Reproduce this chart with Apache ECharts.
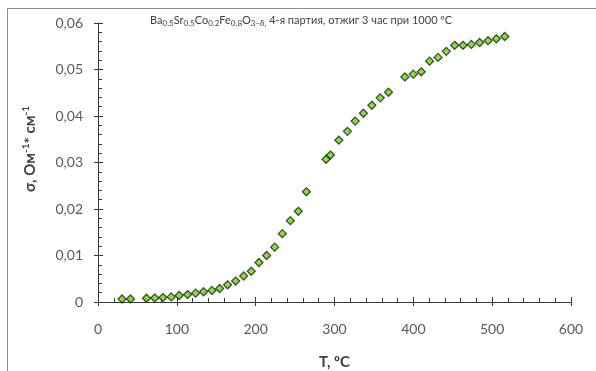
<!DOCTYPE html>
<html>
<head>
<meta charset="utf-8">
<script src="https://cdn.jsdelivr.net/npm/echarts@6/dist/echarts.min.js"></script>
<style>
html,body{margin:0;padding:0;background:#fff;}
#c{width:596px;height:371px;}
</style>
</head>
<body>
<div id="c"></div>
<script>
const temperature = [30.5, 41.2, 61.5, 72, 82.2, 92.8, 102.9, 113.6, 123.8, 133.9, 144.5, 154.3, 164.4, 174.6, 184.8, 194.4, 204.2, 213.9, 224.1, 233.8, 244, 254.1, 264.3, 289.3, 294.8, 305.5, 316.4, 326.2, 336.7, 347.4, 358, 368.5, 389.3, 399.9, 410, 420.6, 431.3, 441.8, 452.4, 463, 473.6, 484.1, 494.8, 505.3, 515.9];
const sigma = [0.00065, 0.00065, 0.0008, 0.00086, 0.00095, 0.0011, 0.0014, 0.0016, 0.0019, 0.0022, 0.0025, 0.0029, 0.0037, 0.0045, 0.0056, 0.0066, 0.0085, 0.0100, 0.0118, 0.0147, 0.0175, 0.0195, 0.0237, 0.0307, 0.0316, 0.0348, 0.0367, 0.0389, 0.0406, 0.0423, 0.0439, 0.0451, 0.0484, 0.0490, 0.0495, 0.0518, 0.0526, 0.0539, 0.0552, 0.0552, 0.0554, 0.0558, 0.0562, 0.0566, 0.0571];
const xTicks = [0, 100, 200, 300, 400, 500, 600];
const yTicks = [0, 0.01, 0.02, 0.03, 0.04, 0.05, 0.06];
const chartTitle = 'Ba{s|0.5}Sr{s|0.5}Co{s|0.2}Fe{s|0.8}O{s|3–δ,} 4-я партия, отжиг 3 час при 1000 ºC';
const yName = 'σ, Ом{sup|-1}* см{sup|-1}';
const xName = 'T, ºC';

const FONT = 'Lato';
const axisColor = '#3a3a3a';
const labelColor = '#595959';
const points = temperature.map((t, i) => [t, sigma[i]]);

const chart = echarts.init(document.getElementById('c'));
const baseX = {
  type: 'value', min: xTicks[0], max: xTicks[xTicks.length - 1], interval: 100,
  splitLine: { show: false }
};
const baseY = {
  type: 'value', min: yTicks[0], max: yTicks[yTicks.length - 1], interval: 0.01,
  splitLine: { show: false }
};
chart.setOption({
  animation: false,
  backgroundColor: '#fff',
  grid: { left: 98, right: 25, top: 23, bottom: 69, containLabel: false, outerBoundsMode: 'none' },
  graphic: [
    { type: 'rect', shape: { x: 7.5, y: 8.5, width: 700, height: 500 }, style: { fill: 'none', stroke: '#8c8c8c', lineWidth: 1 }, silent: true, z: -1 },
    { type: 'text', left: 150, top: 15, style: {
        text: chartTitle, fontFamily: FONT, fontSize: 11, fill: '#404040',
        rich: { s: { fontFamily: FONT, fontSize: 8, fill: '#404040', padding: [5, 0, 0, 0] } }
    } },
    { type: 'text', x: 30, y: 149, rotation: Math.PI / 2, style: {
        text: yName, fontFamily: FONT, fontSize: 15, fontWeight: 'bold', fill: '#404040',
        align: 'center', verticalAlign: 'middle',
        rich: { sup: { fontFamily: FONT, fontSize: 10, fontWeight: 'bold', fill: '#404040', padding: [0, 0, 8, 0] } }
    } }
  ],
  xAxis: [
    Object.assign({}, baseX, {
      position: 'bottom',
      name: xName, nameLocation: 'middle', nameGap: 53,
      nameTextStyle: { fontFamily: FONT, fontSize: 15, fontWeight: 'bold', color: '#404040' },
      axisLine: { show: true, lineStyle: { color: axisColor, width: 1 } },
      axisTick: { show: true, inside: false, length: 4, lineStyle: { color: axisColor } },
      minorTick: { show: false },
      axisLabel: { fontFamily: FONT, fontSize: 14, color: labelColor, margin: 20 }
    }),
    Object.assign({}, baseX, {
      position: 'bottom',
      axisLine: { show: false },
      axisTick: { show: true, inside: true, length: 5, lineStyle: { color: axisColor } },
      minorTick: { show: true, splitNumber: 5, length: 4, lineStyle: { color: axisColor } },
      axisLabel: { show: false }
    })
  ],
  yAxis: [
    Object.assign({}, baseY, {
      position: 'left',
      axisLine: { show: true, lineStyle: { color: axisColor, width: 1 } },
      axisTick: { show: true, inside: false, length: 4, lineStyle: { color: axisColor } },
      minorTick: { show: false },
      axisLabel: { fontFamily: FONT, fontSize: 14, color: labelColor, margin: 15,
        formatter: v => (v === 0 ? '0' : v.toFixed(2).replace('.', ',')) }
    }),
    Object.assign({}, baseY, {
      position: 'left',
      axisLine: { show: false },
      axisTick: { show: true, inside: true, length: 5, lineStyle: { color: axisColor } },
      minorTick: { show: true, splitNumber: 5, length: 4, lineStyle: { color: axisColor } },
      axisLabel: { show: false }
    })
  ],
  series: [{
    type: 'scatter', xAxisIndex: 0, yAxisIndex: 0,
    data: points, symbol: 'diamond', symbolSize: 8,
    itemStyle: { color: '#66dd00', borderColor: '#222', borderWidth: 1.3 }
  }]
});
</script>
</body>
</html>
